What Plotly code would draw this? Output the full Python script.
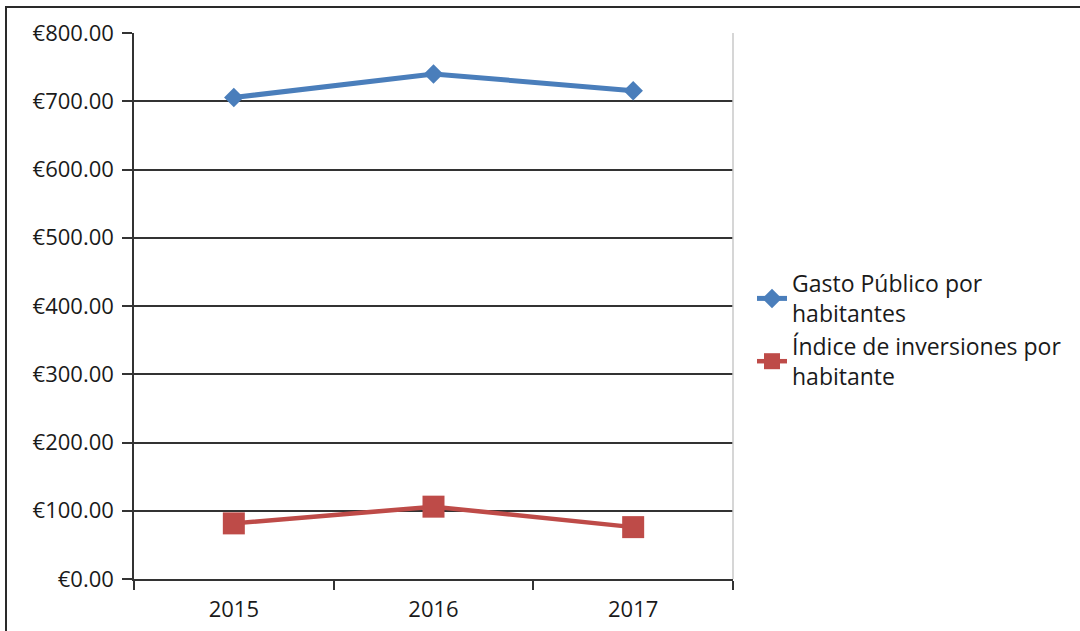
import plotly.graph_objects as go

# Category labels and series values (euros per inhabitant)
years = ["2015", "2016", "2017"]
gasto_publico = [705.5, 740.0, 715.5]
indice_inversiones = [81.5, 106.0, 76.0]

series_names = ["Gasto Público por<br>habitantes", "Índice de inversiones por<br>habitante"]

BLUE = "#4A7EBB"
RED = "#BE4B48"
FONT = "Open Sans"

fig = go.Figure()

fig.add_trace(go.Scatter(
    x=years, y=gasto_publico, name=series_names[0], mode="lines+markers",
    line=dict(color=BLUE, width=5),
    marker=dict(symbol="diamond", size=15, color=BLUE),
))
fig.add_trace(go.Scatter(
    x=years, y=indice_inversiones, name=series_names[1], mode="lines+markers",
    line=dict(color=RED, width=4.5),
    marker=dict(symbol="square", size=22, color=RED),
))

W, H = 1080, 631
ml, mr, mt, mb = 134, 347, 33, 52
pw = W - ml - mr
ph = H - mt - mb

fig.update_layout(
    width=W, height=H,
    margin=dict(l=ml, r=mr, t=mt, b=mb, pad=0),
    paper_bgcolor="white", plot_bgcolor="white",
    font=dict(family=FONT, color="#1a1a1a"),
    showlegend=True,
    legend=dict(
        xref="container", yref="container",
        x=752 / W, y=1 - 330 / H, xanchor="left", yanchor="middle",
        font=dict(family=FONT, size=23, color="#1a1a1a"),
        bgcolor="rgba(0,0,0,0)", borderwidth=0,
        tracegroupgap=0, itemwidth=30,
    ),
    xaxis=dict(
        type="category", range=[-0.5, 2.5],
        showgrid=False, zeroline=False,
        showline=True, linecolor="#333333", linewidth=1.5,
        ticks="outside", ticklen=9, tickcolor="#333333", tickwidth=1.5,
        tickson="boundaries",
        tickfont=dict(family=FONT, size=22, color="#1a1a1a"),
        ticklabelstandoff=10,
        automargin=False,
    ),
    yaxis=dict(
        range=[0, 800], dtick=100, tick0=0,
        tickprefix="€", tickformat=".2f",
        showgrid=True, gridcolor="#333333", gridwidth=1.5,
        zeroline=False,
        showline=True, linecolor="#333333", linewidth=1.5,
        ticks="outside", ticklen=10, tickcolor="#333333", tickwidth=1.5,
        tickfont=dict(family=FONT, size=22, color="#1a1a1a"),
        ticklabelstandoff=4,
        automargin=False,
    ),
    shapes=[
        # light frame on the right side of the plot area
        dict(type="line", xref="paper", yref="paper", x0=1, x1=1, y0=0, y1=1,
             line=dict(color="#c8c8c8", width=1.5)),
        # outer chart border
        dict(type="rect", xref="paper", yref="paper",
             x0=(6 - ml) / pw, x1=(W + 20 - ml) / pw,
             y0=-(H + 20 - mt - ph) / ph, y1=(H - 7 - mb) / ph,
             line=dict(color="#2a2a2a", width=2), fillcolor="rgba(0,0,0,0)",
             layer="below"),
    ],
)

fig.write_html("out.html")
